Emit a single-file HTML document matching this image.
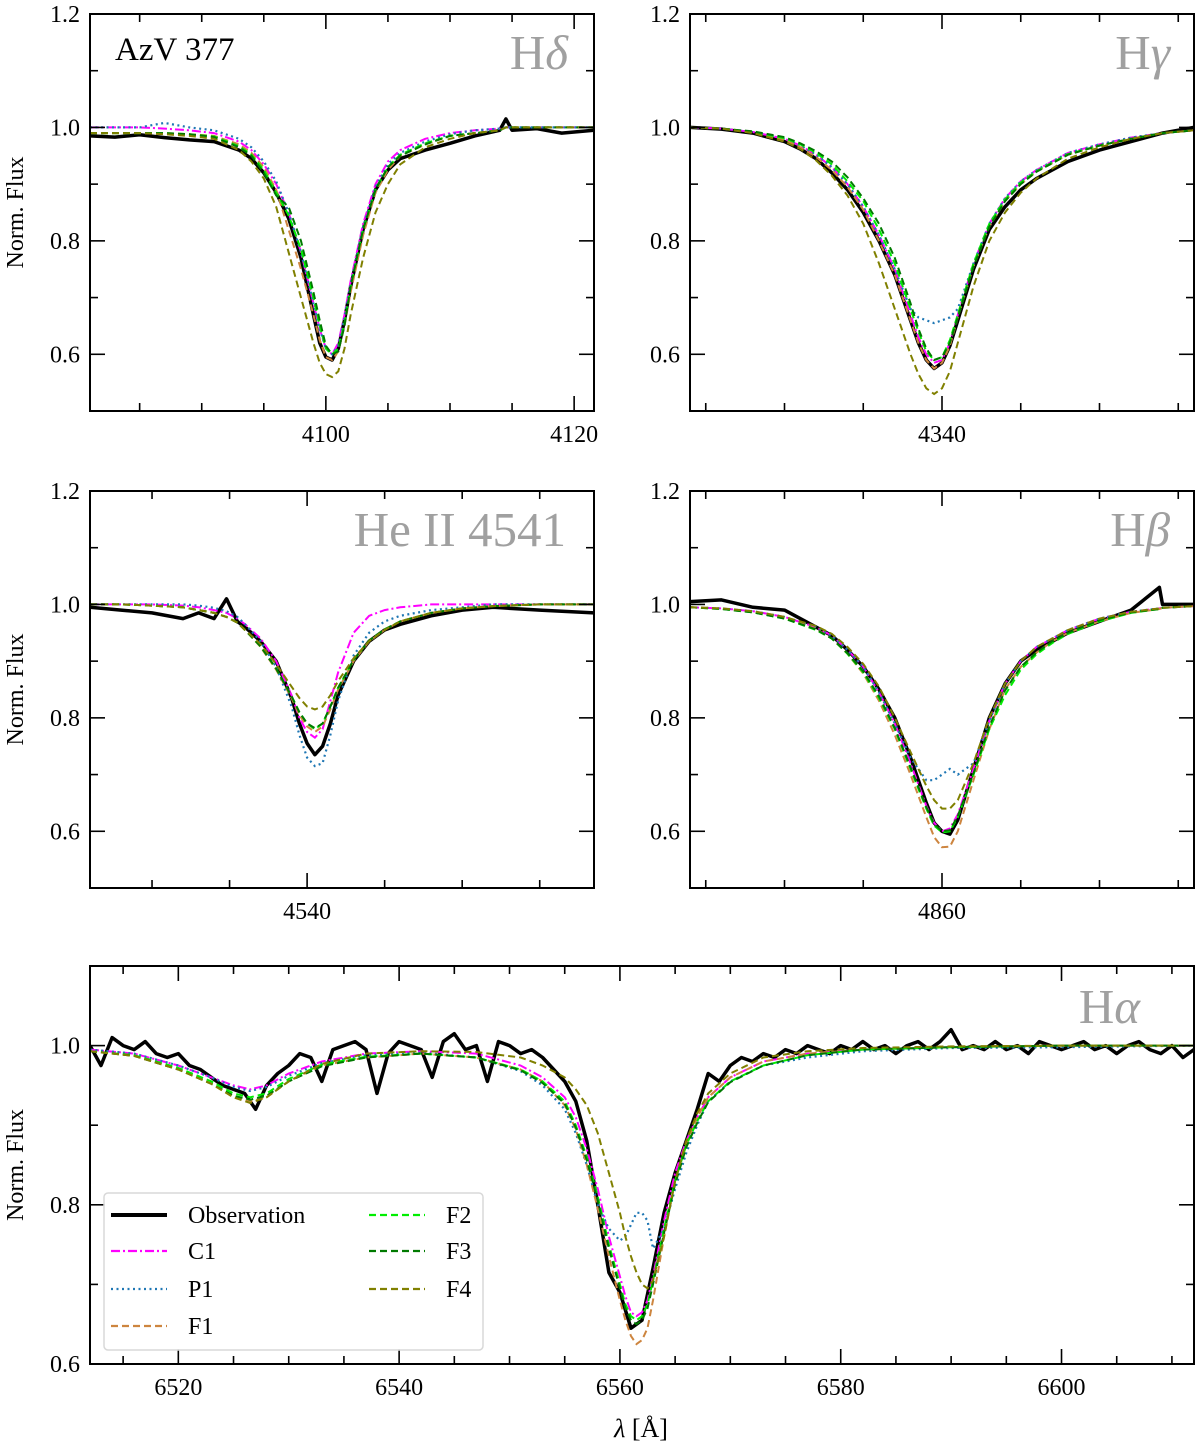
<!DOCTYPE html>
<html><head><meta charset="utf-8"><style>
body{margin:0;background:#fff;}
svg{display:block;font-family:"Liberation Serif","DejaVu Serif",serif;}
</style></head><body>
<svg id="chart" width="1200" height="1447" viewBox="0 0 1200 1447" xmlns="http://www.w3.org/2000/svg"></svg>
<script>
// ---------- Panel 1: H delta ----------
const p1Lam=[4081,4083,4085,4087,4089,4091,4093,4094,4095,4096,4097,4098,4099,4099.5,4100,4100.5,4101,4101.5,4102,4103,4104,4105,4106,4108,4110,4112,4114,4114.5,4115,4117,4119,4121.6];
const p1Obs=[0.985,0.983,0.987,0.982,0.978,0.975,0.96,0.945,0.92,0.885,0.84,0.77,0.67,0.62,0.595,0.59,0.61,0.66,0.72,0.82,0.89,0.925,0.945,0.96,0.972,0.985,0.995,1.015,0.995,0.998,0.99,0.995];
const p1C1=[1.0,1.0,1.0,0.998,0.995,0.99,0.975,0.96,0.935,0.9,0.85,0.78,0.69,0.645,0.61,0.6,0.62,0.67,0.73,0.83,0.9,0.94,0.96,0.98,0.99,0.995,0.998,1.0,1.0,1.0,1.0,1.0];
const p1P1=[1.0,1.0,1.0,1.008,1.0,0.995,0.98,0.965,0.94,0.905,0.85,0.78,0.69,0.645,0.61,0.6,0.615,0.665,0.725,0.825,0.895,0.935,0.955,0.975,0.988,0.995,0.998,1.0,1.0,1.0,1.0,1.0];
const p1F1=[0.99,0.99,0.99,0.99,0.988,0.985,0.97,0.955,0.93,0.89,0.82,0.75,0.67,0.625,0.595,0.59,0.605,0.65,0.71,0.81,0.885,0.925,0.95,0.97,0.985,0.99,0.995,1.0,1.0,1.0,1.0,1.0];
const p1F2=[0.99,0.99,0.99,0.99,0.988,0.984,0.967,0.952,0.925,0.885,0.845,0.785,0.7,0.65,0.61,0.6,0.61,0.655,0.72,0.82,0.89,0.93,0.952,0.972,0.985,0.99,0.995,1.0,1.0,1.0,1.0,1.0];
const p1F3=[0.99,0.99,0.99,0.99,0.988,0.983,0.965,0.95,0.92,0.88,0.86,0.8,0.71,0.66,0.615,0.6,0.605,0.65,0.72,0.82,0.89,0.93,0.95,0.97,0.985,0.99,0.995,1.0,1.0,1.0,1.0,1.0];
const p1F4=[0.99,0.99,0.99,0.988,0.985,0.98,0.96,0.94,0.91,0.86,0.78,0.7,0.62,0.585,0.565,0.56,0.57,0.61,0.67,0.77,0.85,0.9,0.935,0.965,0.98,0.99,0.995,1.0,1.0,1.0,1.0,1.0];
// ---------- Panel 2: H gamma ----------
const p2Lam=[4324,4326,4328,4330,4331,4332,4333,4334,4335,4336,4337,4338,4338.5,4339,4339.5,4340,4340.5,4341,4342,4343,4344,4345,4346,4348,4350,4352,4354,4356];
const p2Obs=[1.0,0.997,0.99,0.975,0.962,0.945,0.92,0.89,0.85,0.8,0.74,0.66,0.62,0.59,0.575,0.585,0.615,0.66,0.75,0.82,0.86,0.89,0.91,0.94,0.96,0.975,0.99,1.0];
const p2C1=[1.0,0.998,0.992,0.98,0.968,0.952,0.93,0.9,0.86,0.81,0.75,0.67,0.63,0.6,0.585,0.59,0.62,0.67,0.76,0.83,0.875,0.905,0.925,0.955,0.97,0.982,0.99,0.995];
const p2P1=[1.0,0.998,0.992,0.98,0.968,0.952,0.93,0.9,0.86,0.81,0.75,0.68,0.665,0.66,0.655,0.66,0.665,0.68,0.76,0.83,0.875,0.905,0.925,0.955,0.97,0.982,0.99,0.995];
const p2F1=[1.0,0.998,0.991,0.978,0.965,0.948,0.925,0.895,0.855,0.8,0.74,0.66,0.62,0.59,0.575,0.585,0.615,0.665,0.755,0.825,0.87,0.9,0.922,0.952,0.968,0.98,0.99,0.995];
const p2F2=[1.0,0.998,0.992,0.981,0.97,0.955,0.935,0.905,0.87,0.82,0.76,0.68,0.64,0.605,0.59,0.595,0.625,0.67,0.76,0.83,0.873,0.903,0.923,0.953,0.968,0.98,0.99,0.995];
const p2F3=[1.0,0.998,0.993,0.983,0.972,0.958,0.94,0.912,0.875,0.83,0.77,0.69,0.645,0.61,0.59,0.595,0.62,0.665,0.755,0.825,0.87,0.9,0.922,0.952,0.968,0.98,0.99,0.995];
const p2F4=[1.0,0.998,0.99,0.975,0.962,0.942,0.915,0.88,0.83,0.76,0.68,0.6,0.565,0.54,0.53,0.54,0.57,0.62,0.72,0.8,0.85,0.885,0.91,0.945,0.965,0.98,0.99,0.995];
// ---------- Panel 3: He II 4541 ----------
const p3Lam=[4526,4528,4530,4532,4533,4534,4534.8,4535.5,4536,4537,4538,4539,4539.5,4540,4540.5,4541,4541.5,4542,4543,4544,4545,4546,4548,4550,4552,4555,4558.5];
const p3Obs=[0.995,0.99,0.985,0.975,0.985,0.975,1.01,0.97,0.96,0.935,0.9,0.835,0.79,0.755,0.735,0.75,0.79,0.84,0.9,0.935,0.955,0.965,0.98,0.99,0.995,0.99,0.985];
const p3C1=[1.0,1.0,1.0,0.998,0.995,0.99,0.985,0.975,0.965,0.94,0.9,0.84,0.8,0.775,0.765,0.78,0.83,0.88,0.95,0.98,0.99,0.995,1.0,1.0,1.0,1.0,1.0];
const p3P1=[1.0,1.0,1.0,1.0,0.998,0.994,0.988,0.978,0.965,0.935,0.89,0.82,0.77,0.73,0.715,0.72,0.77,0.83,0.91,0.95,0.97,0.98,0.99,0.995,1.0,1.0,1.0];
const p3F1=[1.0,1.0,0.998,0.995,0.99,0.985,0.978,0.968,0.955,0.925,0.885,0.835,0.805,0.785,0.775,0.785,0.815,0.85,0.9,0.935,0.955,0.97,0.985,0.993,0.997,1.0,1.0];
const p3F2=[1.0,1.0,0.998,0.995,0.99,0.985,0.978,0.968,0.955,0.926,0.887,0.838,0.81,0.79,0.78,0.79,0.82,0.853,0.902,0.936,0.956,0.97,0.985,0.993,0.997,1.0,1.0];
const p3F3=[1.0,1.0,0.998,0.995,0.99,0.985,0.978,0.968,0.955,0.926,0.887,0.838,0.81,0.79,0.782,0.79,0.82,0.853,0.902,0.936,0.956,0.97,0.985,0.993,0.997,1.0,1.0];
const p3F4=[1.0,1.0,0.998,0.995,0.99,0.985,0.978,0.968,0.955,0.93,0.895,0.855,0.835,0.82,0.815,0.82,0.84,0.865,0.905,0.935,0.955,0.97,0.985,0.993,0.997,1.0,1.0];
// ---------- Panel 4: H beta ----------
const p4Lam=[4844,4846,4848,4850,4852,4853,4854,4855,4856,4857,4858,4859,4859.5,4860,4860.5,4861,4862,4863,4864,4865,4866,4867,4868,4870,4872,4873.8,4874,4876];
const p4Obs=[1.005,1.008,0.995,0.99,0.96,0.945,0.92,0.89,0.85,0.8,0.73,0.65,0.615,0.6,0.595,0.62,0.71,0.8,0.86,0.9,0.92,0.935,0.95,0.97,0.99,1.03,1.0,1.0];
const p4C1=[0.995,0.993,0.988,0.978,0.96,0.945,0.92,0.89,0.845,0.79,0.72,0.645,0.615,0.6,0.605,0.63,0.71,0.795,0.86,0.9,0.925,0.94,0.955,0.975,0.987,0.993,0.994,0.997];
const p4P1=[0.995,0.993,0.988,0.978,0.96,0.945,0.92,0.89,0.845,0.79,0.73,0.69,0.69,0.7,0.71,0.7,0.72,0.795,0.86,0.9,0.925,0.94,0.955,0.975,0.987,0.993,0.994,0.997];
const p4F1=[0.995,0.993,0.987,0.976,0.957,0.94,0.913,0.878,0.83,0.77,0.7,0.625,0.59,0.572,0.573,0.6,0.69,0.78,0.85,0.89,0.915,0.935,0.95,0.97,0.985,0.992,0.994,0.997];
const p4F2=[0.995,0.992,0.986,0.975,0.955,0.94,0.913,0.88,0.835,0.78,0.71,0.64,0.61,0.598,0.6,0.625,0.7,0.78,0.84,0.885,0.912,0.932,0.948,0.97,0.985,0.992,0.994,0.997];
const p4F3=[0.995,0.992,0.986,0.975,0.956,0.94,0.914,0.882,0.838,0.782,0.713,0.643,0.613,0.6,0.602,0.627,0.702,0.785,0.848,0.89,0.915,0.935,0.95,0.972,0.986,0.992,0.994,0.997];
const p4F4=[0.995,0.993,0.988,0.978,0.962,0.948,0.925,0.895,0.855,0.8,0.74,0.68,0.655,0.64,0.64,0.655,0.72,0.8,0.86,0.9,0.925,0.94,0.955,0.975,0.987,0.993,0.994,0.997];
// ---------- Panel 5: H alpha ----------
const p5ObsStart=6512;
const p5ObsStep=1;
const p5Obs=[
1.0,0.975,1.01,1.0,0.995,1.005,0.99,0.985,0.99,0.975,
0.97,0.96,0.95,0.945,0.94,0.92,0.95,0.965,0.975,0.99,
0.985,0.955,0.995,1.0,1.005,0.995,0.94,0.99,1.005,1.0,
0.995,0.96,1.005,1.015,0.995,1.0,0.955,1.005,1.0,0.99,
0.995,0.985,0.97,0.955,0.93,0.88,0.8,0.715,0.69,0.645,
0.655,0.72,0.79,0.84,0.88,0.92,0.965,0.955,0.975,0.985,
0.98,0.99,0.985,0.995,0.99,1.0,0.995,0.99,1.0,0.995,
1.005,0.995,1.0,0.99,1.0,1.005,0.995,1.005,1.02,0.995,
1.0,0.995,1.005,0.995,1.0,0.99,1.005,1.0,0.995,1.0,
1.005,0.995,1.0,0.99,1.0,1.005,0.995,0.99,1.0,0.985,
0.995];
const p5Lam=[6512,6516,6520,6523,6525,6526.5,6528,6530,6533,6537,6542,6547,6551,6553,6555,6556,6557,6558,6559,6560,6560.5,6561,6561.5,6562,6562.5,6563,6564,6565,6566,6567,6568,6570,6573,6577,6582,6590,6600,6612];
const p5C1=[0.995,0.99,0.975,0.96,0.95,0.945,0.95,0.965,0.98,0.99,0.993,0.99,0.975,0.96,0.935,0.91,0.87,0.82,0.76,0.71,0.685,0.665,0.66,0.665,0.68,0.71,0.78,0.84,0.88,0.91,0.935,0.96,0.98,0.99,0.995,0.998,1.0,1.0];
const p5P1=[0.995,0.99,0.975,0.96,0.948,0.943,0.948,0.962,0.978,0.988,0.991,0.985,0.968,0.95,0.92,0.89,0.85,0.8,0.77,0.755,0.76,0.775,0.79,0.79,0.78,0.745,0.77,0.82,0.865,0.9,0.93,0.955,0.975,0.985,0.993,0.997,0.998,1.0];
const p5F1=[0.993,0.987,0.97,0.952,0.935,0.93,0.935,0.955,0.975,0.985,0.99,0.985,0.97,0.955,0.925,0.895,0.85,0.795,0.735,0.68,0.655,0.635,0.625,0.63,0.645,0.68,0.76,0.83,0.875,0.91,0.935,0.96,0.98,0.99,0.995,0.998,1.0,1.0];
const p5F2=[0.993,0.988,0.972,0.955,0.94,0.935,0.94,0.958,0.976,0.986,0.99,0.985,0.97,0.955,0.93,0.9,0.86,0.81,0.75,0.7,0.675,0.66,0.655,0.66,0.675,0.705,0.77,0.83,0.875,0.905,0.93,0.955,0.975,0.988,0.995,0.998,1.0,1.0];
const p5F3=[0.993,0.987,0.97,0.952,0.937,0.932,0.937,0.955,0.974,0.985,0.99,0.985,0.969,0.953,0.927,0.897,0.856,0.805,0.745,0.695,0.67,0.655,0.65,0.655,0.67,0.7,0.765,0.826,0.872,0.903,0.929,0.954,0.975,0.988,0.995,0.998,1.0,1.0];
const p5F4=[0.993,0.987,0.97,0.952,0.935,0.928,0.935,0.955,0.977,0.99,0.993,0.992,0.985,0.975,0.96,0.945,0.925,0.89,0.84,0.79,0.76,0.735,0.715,0.7,0.695,0.705,0.76,0.83,0.88,0.915,0.94,0.965,0.985,0.993,0.997,0.999,1.0,1.0];

// ---------- styles ----------
const seriesNames=['C1','P1','F1','F2','F3','F4'];
const seriesColors={C1:'#ff00ff',P1:'#1f77b4',F1:'#cd853f',F2:'#00ee00',F3:'#007a00',F4:'#808000'};
const seriesDash={C1:'9,3,2,3',P1:'2,3.5',F1:'7,4',F2:'7,4',F3:'7,4',F4:'7,4'};

const NS='http://www.w3.org/2000/svg';
const svg=document.getElementById('chart');
function mk(tag,attrs,parent){const e=document.createElementNS(NS,tag);for(const k in attrs)e.setAttribute(k,attrs[k]);(parent||svg).appendChild(e);return e;}

const panels=[
 {id:'h-delta',l:90,r:594,t:14,b:411,x0:4081,x1:4121.6,y0:0.5,y1:1.2,major:20,minor:5,lam:p1Lam,obs:p1Obs,m:{C1:p1C1,P1:p1P1,F1:p1F1,F2:p1F2,F3:p1F3,F4:p1F4},label:'H<tspan font-style="italic">δ</tspan>',lx:568,ly:69,ylab:true},
 {id:'h-gamma',l:690,r:1194,t:14,b:411,x0:4324,x1:4356,y0:0.5,y1:1.2,major:20,minor:5,lam:p2Lam,obs:p2Obs,m:{C1:p2C1,P1:p2P1,F1:p2F1,F2:p2F2,F3:p2F3,F4:p2F4},label:'H<tspan font-style="italic">γ</tspan>',lx:1170,ly:69},
 {id:'he-ii-4541',l:90,r:594,t:491,b:888,x0:4526,x1:4558.5,y0:0.5,y1:1.2,major:20,minor:5,lam:p3Lam,obs:p3Obs,m:{C1:p3C1,P1:p3P1,F1:p3F1,F2:p3F2,F3:p3F3,F4:p3F4},label:'He II 4541',lx:566,ly:546,ylab:true},
 {id:'h-beta',l:690,r:1194,t:491,b:888,x0:4844,x1:4876,y0:0.5,y1:1.2,major:20,minor:5,lam:p4Lam,obs:p4Obs,m:{C1:p4C1,P1:p4P1,F1:p4F1,F2:p4F2,F3:p4F3,F4:p4F4},label:'H<tspan font-style="italic">β</tspan>',lx:1170,ly:546},
 {id:'h-alpha',l:90,r:1194,t:966,b:1364,x0:6512,x1:6612,y0:0.6,y1:1.1,major:20,minor:5,lam:p5Lam,obsStart:p5ObsStart,obsStep:p5ObsStep,obs:p5Obs,m:{C1:p5C1,P1:p5P1,F1:p5F1,F2:p5F2,F3:p5F3,F4:p5F4},label:'H<tspan font-style="italic">α</tspan>',lx:1140,ly:1023,ylab:true}
];

panels.forEach(P=>{
 const xs=v=>P.l+(v-P.x0)/(P.x1-P.x0)*(P.r-P.l);
 const ys=v=>P.b-(v-P.y0)/(P.y1-P.y0)*(P.b-P.t);
 const g=mk('g',{});
 
 
 const cid='clip-'+P.id;
 const cp=mk('clipPath',{id:cid},g);mk('rect',{x:P.l,y:P.t,width:P.r-P.l,height:P.b-P.t},cp);
 const plot=mk('g',{'clip-path':'url(#'+cid+')'},g);
 let pts;
 if(P.obsStart!==undefined){pts=P.obs.map((v,i)=>xs(P.obsStart+i*P.obsStep).toFixed(1)+','+ys(v).toFixed(1));}
 else{pts=P.obs.map((v,i)=>xs(P.lam[i]).toFixed(1)+','+ys(v).toFixed(1));}
 const ob=mk('polyline',{points:pts.join(' '),fill:'none',stroke:'#000','stroke-width':3.5,'stroke-linejoin':'round'},plot);
 
 
 seriesNames.forEach(s=>{
  const arr=P.m[s];
  const pp=arr.map((v,i)=>xs(P.lam[i]).toFixed(1)+','+ys(v).toFixed(1)).join(' ');
  const ln=mk('polyline',{points:pp,fill:'none',stroke:seriesColors[s],'stroke-width':s==='P1'?2.2:2,'stroke-dasharray':seriesDash[s]},plot);
  
  
 });
 const fr=mk('rect',{x:P.l,y:P.t,width:P.r-P.l,height:P.b-P.t,fill:'none',stroke:'#000','stroke-width':2},g);
 
 
 const xstart=Math.ceil(P.x0/P.minor)*P.minor;
 for(let v=xstart;v<=P.x1+1e-6;v+=P.minor){
  const x=xs(v);const isMaj=Math.abs(v/P.major-Math.round(v/P.major))<1e-6;const L=isMaj?15:8;
  mk('line',{x1:x,y1:P.b,x2:x,y2:P.b-L,stroke:'#000','stroke-width':1.6},g);
  mk('line',{x1:x,y1:P.t,x2:x,y2:P.t+L,stroke:'#000','stroke-width':1.6},g);
  if(isMaj){const t=mk('text',{x:x,y:P.b+31,'text-anchor':'middle','font-size':24,fill:'#000'},g);t.textContent=String(v);
   
   }
 }
 for(let k=Math.round(P.y0*10);k<=Math.round(P.y1*10);k++){
  const v=k/10;const y=ys(v);const isMaj=k%2===0;const L=isMaj?15:8;
  mk('line',{x1:P.l,y1:y,x2:P.l+L,y2:y,stroke:'#000','stroke-width':1.6},g);
  mk('line',{x1:P.r,y1:y,x2:P.r-L,y2:y,stroke:'#000','stroke-width':1.6},g);
  if(isMaj && y>P.t-1 && y<P.b-1){const t=mk('text',{x:P.l-10,y:y+8,'text-anchor':'end','font-size':24,fill:'#000'},g);t.textContent=v.toFixed(1);
   
   }
 }
 if(P.id==='h-alpha'){const t=mk('text',{x:P.l-10,y:P.b+8,'text-anchor':'end','font-size':24,fill:'#000'},g);t.textContent='0.6';
  
  }
 const lb=mk('text',{x:P.lx,y:P.ly,'text-anchor':'end','font-size':49,fill:'#a0a0a0'},g);lb.innerHTML=P.label;
 
 
 if(P.ylab){const cy=(P.t+P.b)/2;const yl=mk('text',{x:23,y:cy,'text-anchor':'middle','font-size':24,fill:'#000',transform:'rotate(-90 23 '+cy+')'},g);yl.textContent='Norm. Flux';
  
  }
});

const star=mk('text',{x:115,y:60,'font-size':33,fill:'#000'});star.textContent='AzV 377';


const xt=mk('text',{x:641,y:1437,'text-anchor':'middle','font-size':26,fill:'#000'});xt.innerHTML='<tspan font-style="italic">λ</tspan> [Å]';



const lg=mk('g',{});


mk('rect',{x:104,y:1193,width:379,height:157,rx:4,fill:'#fff','fill-opacity':0.85,stroke:'#d8d8d8','stroke-width':1.5},lg);
const legItems=[['Observation',111,1215],['C1',111,1251],['P1',111,1289],['F1',111,1326],['F2',369,1215],['F3',369,1251],['F4',369,1289]];
legItems.forEach(([n,x,y])=>{
 const e=mk('g',{},lg);
 
 
 if(n==='Observation')mk('line',{x1:x,y1:y,x2:x+56,y2:y,stroke:'#000','stroke-width':4},e);
 else mk('line',{x1:x,y1:y,x2:x+56,y2:y,stroke:seriesColors[n],'stroke-width':2.2,'stroke-dasharray':seriesDash[n]},e);
 const t=mk('text',{x:x+77,y:y+8,'font-size':24,fill:'#000'},e);t.textContent=n;
});
</script>
</body></html>
